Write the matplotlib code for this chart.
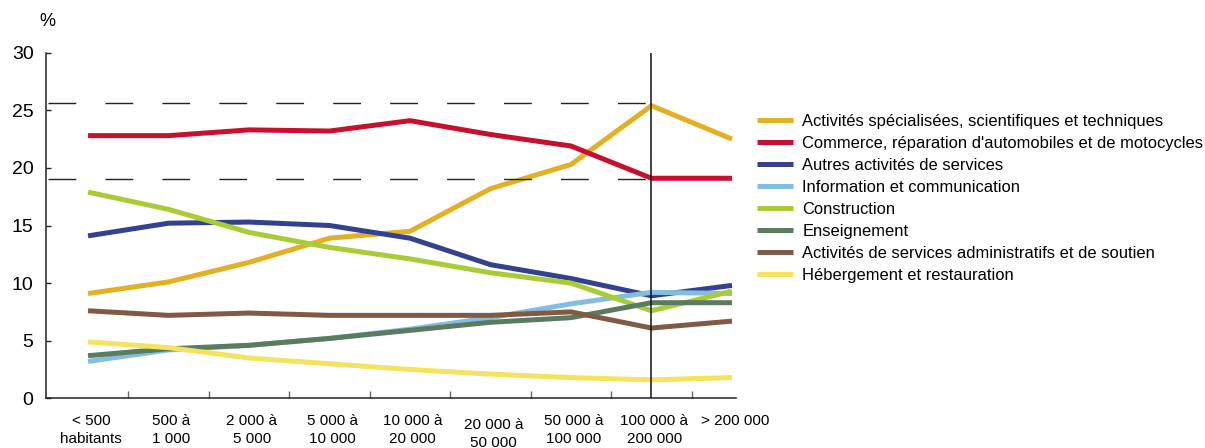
import matplotlib
matplotlib.use('Agg')
import matplotlib.pyplot as plt

plt.rcParams['font.family'] = ['Liberation Sans', 'DejaVu Sans']

# data (% of establishments by town size)
categories = ['< 500\nhabitants', '500 à\n1 000', '2 000 à\n5 000', '5 000 à\n10 000',
              '10 000 à\n20 000', '20 000 à\n50 000', '50 000 à\n100 000',
              '100 000 à\n200 000', '> 200 000']

specialisees = [9.1, 10.1, 11.8, 13.9, 14.5, 18.2, 20.3, 25.4, 22.5]
commerce = [22.8, 22.8, 23.3, 23.2, 24.1, 22.9, 21.9, 19.1, 19.1]
autres = [14.1, 15.2, 15.3, 15.0, 13.9, 11.6, 10.4, 8.9, 9.8]
information = [3.2, 4.2, 4.6, 5.2, 6.0, 7.0, 8.2, 9.2, 9.1]
construction = [17.9, 16.4, 14.4, 13.1, 12.1, 10.9, 10.0, 7.6, 9.3]
enseignement = [3.7, 4.3, 4.6, 5.2, 5.9, 6.6, 7.0, 8.3, 8.3]
administratifs = [7.6, 7.2, 7.4, 7.2, 7.2, 7.2, 7.5, 6.1, 6.7]
hebergement = [4.9, 4.4, 3.5, 3.0, 2.5, 2.1, 1.8, 1.6, 1.8]

labels = ['Activités spécialisées, scientifiques et techniques',
          "Commerce, réparation d'automobiles et de motocycles",
          'Autres activités de services',
          'Information et communication',
          'Construction',
          'Enseignement',
          'Activités de services administratifs et de soutien',
          'Hébergement et restauration']
colors = ['#E3AF23', '#C8102E', '#33418E', '#83BEE2', '#A9CC35', '#5B7B5F', '#7F5A45', '#F4E35F']
series = [specialisees, commerce, autres, information, construction, enseignement,
          administratifs, hebergement]

ref_high = 25.6   # dashed reference lines
ref_low = 19.0
ref_cat = 7       # vertical line at 100 000 à 200 000

fig = plt.figure(figsize=(12.05, 4.48), dpi=100)
ax = fig.add_axes([0.0382, 0.1109, 0.6108 - 0.0382, 0.8824 - 0.1109])

x = list(range(len(categories)))
for vals, lab, col in zip(series, labels, colors):
    ax.plot(x, vals, color=col, lw=3.6, label=lab, solid_capstyle='butt', clip_on=False)

ax.set_xlim(-0.522, 8.05)
ax.set_ylim(0, 30)

ax.hlines([ref_high, ref_low], -0.5, ref_cat, colors='#222222', lw=1.0,
          linestyles=[(0, (20, 21))])
ax.axvline(ref_cat, color='#111111', lw=1.1)

for s in ['top', 'right']:
    ax.spines[s].set_visible(False)
for s in ['left', 'bottom']:
    ax.spines[s].set_color('#222222')
    ax.spines[s].set_linewidth(1.1)

ax.set_yticks(range(0, 31, 5))
ax.tick_params(axis='y', direction='in', length=3.6, width=1, colors='#222222',
               labelsize=14, pad=9, labelcolor='black')

ax.set_xticks(x)
ax.set_xticklabels([])
ax.tick_params(axis='x', which='major', length=0)
ax.set_xticks([i + 0.5 for i in range(8)], minor=True)
ax.tick_params(axis='x', which='minor', direction='in', length=5, width=1, colors='#666666')

for i, cat in enumerate(categories):
    dy = -14 if i == 5 else -11
    ax.annotate(cat, xy=(i, 0), xycoords=('data', 'axes fraction'), xytext=(2, dy),
                textcoords='offset points', ha='center', va='top', fontsize=11,
                linespacing=1.4)

fig.text(47 / 1205, 1 - 22 / 448, '%', ha='center', va='center', fontsize=13)

fig.legend(loc='upper left', bbox_to_anchor=(757 / 1205, 1 - 114 / 448), frameon=False,
           fontsize=11.9, handlelength=2.2, handletextpad=0.55, labelspacing=0.42,
           borderpad=0, borderaxespad=0)

fig.savefig('out.png', dpi=100)
